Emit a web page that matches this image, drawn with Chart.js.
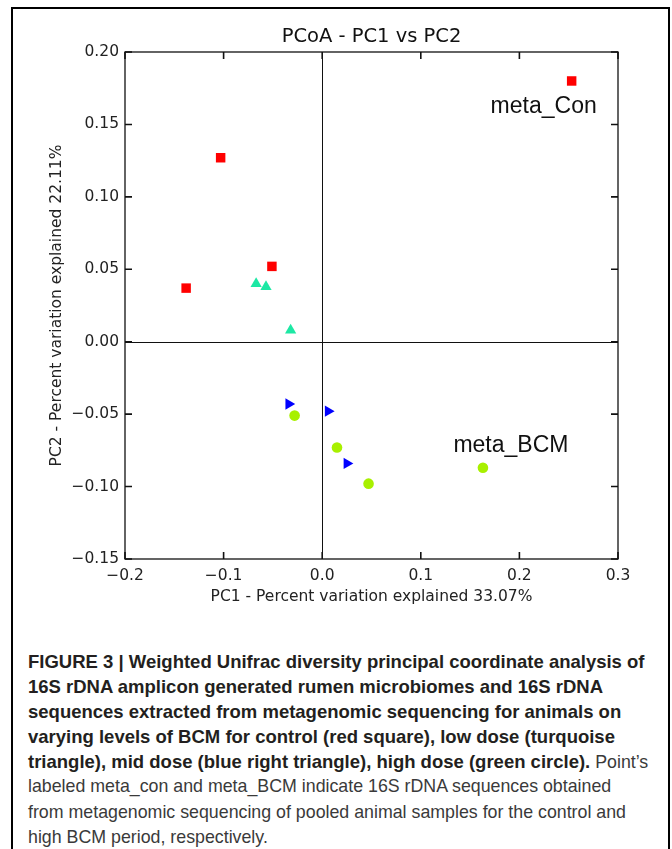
<!DOCTYPE html>
<html>
<head>
<meta charset="utf-8">
<title>PCoA - PC1 vs PC2</title>
<script src="https://cdn.jsdelivr.net/npm/chart.js@4.4.0/dist/chart.umd.min.js"></script>
<style>
    html, body { margin: 0; padding: 0; background: #fff; }
    body { width: 672px; height: 849px; position: relative; overflow: hidden; }
    .frame { position: absolute; left: 11px; top: 7px; right: 2px; bottom: -10px; border: 2px solid #000; }
    #pcoaChart { position: absolute; left: 0; top: 0; }
    .caption {
        position: absolute; left: 28px; top: 649px;
        font-family: 'Liberation Sans', Arial, sans-serif; font-size: 17.8px;
        color: #3a3a3a; white-space: nowrap;
    }
    .caption div { height: 25.1px; line-height: 25.1px; }
    .caption b { color: #231f20; font-size: 18.5px; }
</style>
</head>
<body>
<div class="frame"></div>
<canvas id="pcoaChart" width="672" height="620"></canvas>
<div class="caption">
    <div><b>FIGURE 3 | Weighted Unifrac diversity principal coordinate analysis of</b></div>
    <div><b>16S rDNA amplicon generated rumen microbiomes and 16S rDNA</b></div>
    <div><b>sequences extracted from metagenomic sequencing for animals on</b></div>
    <div><b>varying levels of BCM for control (red square), low dose (turquoise</b></div>
    <div><b>triangle), mid dose (blue right triangle), high dose (green circle).</b> Point’s</div>
    <div>labeled meta_con and meta_BCM indicate 16S rDNA sequences obtained</div>
    <div>from metagenomic sequencing of pooled animal samples for the control and</div>
    <div>high BCM period, respectively.</div>
</div>
<script>
// Axis ticks
const xTicks = [-0.2, -0.1, 0.0, 0.1, 0.2, 0.3];
const yTicks = [-0.15, -0.10, -0.05, 0.00, 0.05, 0.10, 0.15, 0.20];

// Sample coordinates (PC1, PC2)
const controlX = [0.253, -0.103, -0.051, -0.138];
const controlY = [0.180, 0.127, 0.052, 0.037];
const lowDoseX = [-0.067, -0.057, -0.032];
const lowDoseY = [0.040, 0.038, 0.008];
const midDoseX = [-0.034, 0.006, 0.025];
const midDoseY = [-0.043, -0.048, -0.084];
const highDoseX = [-0.028, 0.015, 0.047, 0.163];
const highDoseY = [-0.051, -0.073, -0.098, -0.087];

// Labelled points: dataset index, point index, text
const pointLabels = [
    { group: 0, index: 0, text: 'meta_Con' },
    { group: 3, index: 3, text: 'meta_BCM' }
];

function toPoints(xs, ys) {
    return xs.map((v, i) => ({ x: v, y: ys[i] }));
}

function fmt(v, digits) {
    return Number(v).toFixed(digits).replace('-', '\u2212');
}

const tickFont = { family: "'DejaVu Sans', sans-serif", size: 15.5 };

// Box, inward ticks, zero lines, title and point labels
const frameAndTicks = {
    id: 'frameAndTicks',
    beforeDatasetsDraw(chart) {
        const { ctx, chartArea: a, scales: { x, y } } = chart;
        ctx.save();
        ctx.strokeStyle = '#111';

        ctx.lineWidth = 1;
        const x0 = Math.round(x.getPixelForValue(0)) + 0.5;
        const y0 = Math.round(y.getPixelForValue(0)) + 0.5;
        ctx.beginPath();
        ctx.moveTo(x0, a.top); ctx.lineTo(x0, a.bottom);
        ctx.moveTo(a.left, y0); ctx.lineTo(a.right, y0);
        ctx.stroke();

        ctx.lineWidth = 1.3;
        ctx.strokeRect(a.left, a.top, a.right - a.left, a.bottom - a.top);

        ctx.lineWidth = 1.6;
        ctx.beginPath();
        xTicks.forEach(v => {
            const px = x.getPixelForValue(v);
            ctx.moveTo(px, a.bottom); ctx.lineTo(px, a.bottom - 7);
            ctx.moveTo(px, a.top); ctx.lineTo(px, a.top + 7);
        });
        yTicks.forEach(v => {
            const py = y.getPixelForValue(v);
            ctx.moveTo(a.left, py); ctx.lineTo(a.left + 7, py);
            ctx.moveTo(a.right, py); ctx.lineTo(a.right - 7, py);
        });
        ctx.stroke();

        ctx.fillStyle = '#111';
        ctx.font = "19.5px 'DejaVu Sans', sans-serif";
        ctx.textAlign = 'center';
        ctx.textBaseline = 'middle';
        ctx.fillText('PCoA - PC1 vs PC2', (a.left + a.right) / 2, a.top - 15);
        ctx.restore();
    },
    afterDatasetsDraw(chart) {
        const { ctx } = chart;
        const offsets = { meta_Con: [-28, 32], meta_BCM: [28, -16] };
        ctx.save();
        ctx.fillStyle = '#111';
        ctx.font = "23px 'Liberation Sans', Arial, sans-serif";
        ctx.textAlign = 'center';
        ctx.textBaseline = 'alphabetic';
        pointLabels.forEach(l => {
            const el = chart.getDatasetMeta(l.group).data[l.index];
            const off = offsets[l.text];
            ctx.fillText(l.text, el.x + off[0], el.y + off[1]);
        });
        ctx.restore();
    }
};

document.addEventListener('DOMContentLoaded', function() {
    const ctx = document.getElementById('pcoaChart').getContext('2d');
    new Chart(ctx, {
        type: 'scatter',
        data: {
            datasets: [{
                label: 'Control',
                data: toPoints(controlX, controlY),
                pointStyle: 'rect',
                pointRadius: 6.7,
                backgroundColor: '#ff0000',
                borderWidth: 0
            }, {
                label: 'Low dose',
                data: toPoints(lowDoseX, lowDoseY),
                pointStyle: 'triangle',
                pointRadius: 6.5,
                backgroundColor: '#1de8a4',
                borderWidth: 0
            }, {
                label: 'Mid dose',
                data: toPoints(midDoseX, midDoseY),
                pointStyle: 'triangle',
                rotation: 90,
                pointRadius: 6.5,
                backgroundColor: '#0000ff',
                borderWidth: 0
            }, {
                label: 'High dose',
                data: toPoints(highDoseX, highDoseY),
                pointStyle: 'circle',
                pointRadius: 5.3,
                backgroundColor: '#a8f000',
                borderWidth: 0
            }]
        },
        options: {
            responsive: false,
            animation: false,
            events: [],
            layout: { padding: { top: 52, right: 54, left: 0, bottom: 0 } },
            plugins: {
                legend: { display: false },
                tooltip: { enabled: false },
                title: { display: false }
            },
            scales: {
                x: {
                    type: 'linear',
                    min: -0.2,
                    max: 0.3,
                    afterBuildTicks: s => { s.ticks = xTicks.map(v => ({ value: v })); },
                    afterFit: s => { s.height = 61; },
                    grid: { display: false },
                    border: { display: false },
                    ticks: {
                        callback: v => fmt(v, 1),
                        font: tickFont,
                        color: '#222',
                        padding: 0,
                        maxRotation: 0,
                        autoSkip: false
                    },
                    title: {
                        display: true,
                        text: 'PC1 - Percent variation explained 33.07%',
                        font: tickFont,
                        color: '#222',
                        padding: { top: 0, bottom: 14 }
                    }
                },
                y: {
                    type: 'linear',
                    min: -0.15,
                    max: 0.2,
                    afterBuildTicks: s => { s.ticks = yTicks.map(v => ({ value: v })); },
                    afterFit: s => { s.width = 125; },
                    grid: { display: false },
                    border: { display: false },
                    ticks: {
                        callback: v => fmt(v, 2),
                        font: tickFont,
                        color: '#222',
                        padding: -2,
                        autoSkip: false
                    },
                    title: {
                        display: true,
                        text: 'PC2 - Percent variation explained 22.11%',
                        font: tickFont,
                        color: '#222',
                        padding: { top: 48, bottom: 0 }
                    }
                }
            }
        },
        plugins: [frameAndTicks]
    });
});
</script>
</body>
</html>
